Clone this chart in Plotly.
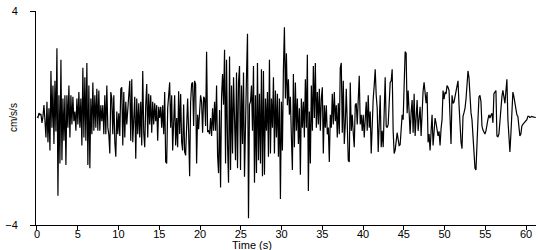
import numpy as np
import plotly.graph_objects as go

# sampling interval of the record (s)
sample_interval = 0.1224

# acceleration record (cm/s/s)
accel_0_8s = [0.05, 0.02, 0.18, 0.12, 0.15, -0.18, 0.06, 0.48, -0.10, -0.73,
              0.61, -0.91, 0.36, -1.21, 1.76, -0.36, 1.21, -0.97, 1.39, -0.50,
              2.61, -2.91, 0.85, -1.70, 2.18, -1.58, 0.73, -0.85, 0.85, -1.76,
              0.85, -0.36, 1.21, -0.73, 0.85, -0.24, 0.79, -0.12, 0.24, -0.48,
              0.73, -0.24, 0.97, -0.36, 0.73, -1.03, 1.88, -0.73, 1.52, -0.85,
              2.06, -1.76, 1.21, -1.88, 0.73, -0.61, 1.33, -0.48, 0.85, -0.36,
              1.09, -0.48, 1.03, -0.48, 0.48, -0.12, 0.48, -0.61, 0.85, -0.61]
accel_8_17s = [1.21, -0.36, -0.61, -1.33, 0.97, 0.73, -0.61, 0.85, -0.90, -1.45,
               0.24, -0.61, 0.18, -0.67, 1.09, 1.15, -1.03, 0.97, -0.73, 0.61,
               -0.24, 0.30, 1.21, 1.39, -0.85, 1.45, -0.91, -0.12, 0.79, -1.52,
               0.73, -0.61, 0.55, -0.73, 0.61, -1.03, 1.76, -0.55, -1.09, 0.48,
               1.27, -0.73, 0.91, -0.24, 0.85, -0.55, 0.61, -0.24, 0.55, -0.12,
               0.48, -0.85, 0.42, 0.00, 0.42, -0.36, 0.48, -0.61, 0.97, -1.64,
               -1.70, 0.36, 0.73, 1.33, -0.36, 0.85, -1.21, -0.12, 0.85, -1.03,
               0.00, -1.09]
accel_17_26s = [1.00, -0.60, 0.90, -0.90, -1.21, 0.50, -1.27, -1.40, 0.30, 0.73,
                -0.50, -2.18, 0.60, 1.27, 1.33, -0.30, 1.39, 1.27, -1.70, 0.12,
                -0.42, 0.30, 0.85, 0.60, -0.55, 0.79, 0.73, -0.30, 2.48, -0.50,
                -0.48, -0.60, 0.00, -0.67, 0.36, -0.48, 0.61, -0.48, 1.21, -1.39,
                -2.06, 0.30, -2.60, 0.79, 1.64, 0.50, 2.55, -1.70, 2.18, -1.00,
                -2.42, 2.30, -1.94, 1.21, -1.33, 1.52, -0.50, -1.58, 1.70, -1.88,
                1.33, 1.94, -1.94, 1.21, -0.97, 1.70, -2.20, 0.50, 1.58, 3.15, -3.75, 0.50]
accel_26_35s = [0.61, 1.21, -0.48, 1.94, -2.42, 0.85, -2.06, 2.06, -1.58, 0.91,
                -1.70, 1.82, -2.18, 1.76, -2.12, 0.73, -0.48, 0.97, -1.45, 2.18,
                -1.33, 0.73, -0.36, 1.52, -1.33, 1.03, -0.73, 0.91, -1.45, 0.73,
                -3.03, 0.61, -1.21, 1.82, 3.39, 0.73, 2.42, 0.48, 1.45, 0.12,
                0.79, -0.73, -1.94, 1.64, -1.09, 1.33, -0.48, 0.73, -0.97, 0.36,
                -2.12, 0.73, -0.36, 0.61, -0.73, 1.45, -0.36, 2.36, -2.73, 0.24,
                -1.70, 1.21, -0.48, 1.94, 0.00, 2.06, -0.36, 0.97, -0.24, 1.09, -0.48, 0.73]
accel_35_44s = [1.15, -1.33, 0.48, -0.36, 0.48, -0.61, -0.36, -1.64, 0.12, -0.36,
                0.91, -0.24, 0.97, -0.12, 0.48, -0.73, 0.55, -0.61, 1.88, 2.06,
                -0.55, 1.39, -0.97, -0.24, 1.09, -0.24, -1.58, -1.64, 1.33, -0.48,
                0.12, -0.55, -1.09, 0.48, 0.55, -0.24, 0.55, 1.58, -0.24, 0.12,
                -0.48, 0.12, -0.73, -0.24, 0.61, -0.48, 0.85, -0.36, 0.24, -1.33,
                0.24, 0.73, 1.21, 1.82, 0.85, 0.36, -1.27, -0.24, 0.85, -1.09,
                -0.48, -1.09, 0.85, 1.52, -0.30, -0.36, -0.24, 0.61, 1.33, 1.39, 1.82]
accel_44_61s = [-0.50, -1.33, -1.20, -0.90, -0.55, -0.80, -1.03, -1.00, -0.40, 0.12,
                -0.06, 1.00, 2.48, 2.42, 0.18, 1.03, 0.30, -0.60, 0.20, 0.67,
                -0.55, 0.91, -0.67, 0.00, 0.67, -0.48, 0.00, 0.42, -0.67, 0.50,
                1.00, 1.33, 0.80, 0.55, 0.97, -0.91, -0.60, -1.21, -0.50, 0.12,
                -1.03, -0.30, 0.00, -0.20, -0.42, -0.67, -0.50, -1.03, -0.40, -0.06,
                1.03, 0.70, 0.97, 0.90, 1.21, 1.15, 1.03, 0.00, -0.97, 0.85,
                0.55, 0.60, 0.79, 1.00, 1.15, 1.39, 0.50, -0.42, -0.90, -1.15,
                0.06, 0.20, 0.36, 0.70, 1.09, 1.76, 1.50, 0.55, 0.20, -0.06,
                -0.67, -1.30, -1.88, -1.94, -0.67, -0.06, 0.79, 0.85, 0.61, -0.30,
                -0.45, -0.55, -0.60, -0.48, -0.18, -0.05, 0.12, 0.00, 0.10, 0.18,
                -0.18, 0.91, 0.97, 1.03, -0.67, -0.70, -0.60, 0.00, 0.55, 0.80,
                1.03, 0.80, 0.55, 1.00, 1.45, -0.06, -0.70, -1.27, -0.60, 0.06,
                0.97, 0.80, 0.55, 0.30, 0.12, 0.06, -0.40, -0.67, -0.60, -0.30,
                -0.24, -0.20, -0.18, -0.12, -0.06, 0.06, 0.06, 0.02, 0.06, 0.06,
                0.04, 0.03, 0.02, 0.02]

x_ticks = [0, 5, 10, 15, 20, 25, 30, 35, 40, 45, 50, 55, 60]
y_ticks = [-4, 4]

accel = (accel_0_8s + accel_8_17s + accel_17_26s + accel_26_35s
         + accel_35_44s + accel_44_61s)
time = np.arange(len(accel)) * sample_interval

FONT = "Liberation Sans, Arial, sans-serif"

fig = go.Figure(go.Scatter(x=time, y=accel, mode="lines",
                           line=dict(color="black", width=1.2),
                           hoverinfo="skip"))

fig.update_layout(
    width=550, height=250,
    margin=dict(l=35, r=14, t=5, b=25),
    paper_bgcolor="white", plot_bgcolor="white",
    showlegend=False,
    font=dict(family=FONT, size=11, color="black"),
    xaxis=dict(range=[-0.12, 61.22], tickvals=x_ticks, ticks="outside",
               ticklen=4, tickcolor="black", showline=True, linecolor="black",
               linewidth=1, showgrid=False, zeroline=False,
               ticklabelstandoff=-5,
               tickfont=dict(family=FONT, size=11, color="black")),
    yaxis=dict(range=[-4, 4], tickvals=y_ticks, ticks="outside",
               ticklen=5, tickcolor="black", showline=True, linecolor="black",
               linewidth=1, showgrid=False, zeroline=False,
               ticklabelstandoff=10, ticklabeloverflow="allow",
               tickfont=dict(family=FONT, size=11, color="black")),
    annotations=[
        dict(text="Time (s)", xref="paper", yref="paper", x=0.431, y=-0.093,
             xanchor="center", yanchor="middle", showarrow=False,
             font=dict(family=FONT, size=11, color="black")),
        dict(text="cm/s/s", xref="paper", yref="paper", x=-0.046, y=0.5,
             xanchor="center", yanchor="middle", showarrow=False, textangle=-90,
             font=dict(family=FONT, size=10, color="black")),
    ],
)

fig.write_html("out.html", config={"displayModeBar": False})
